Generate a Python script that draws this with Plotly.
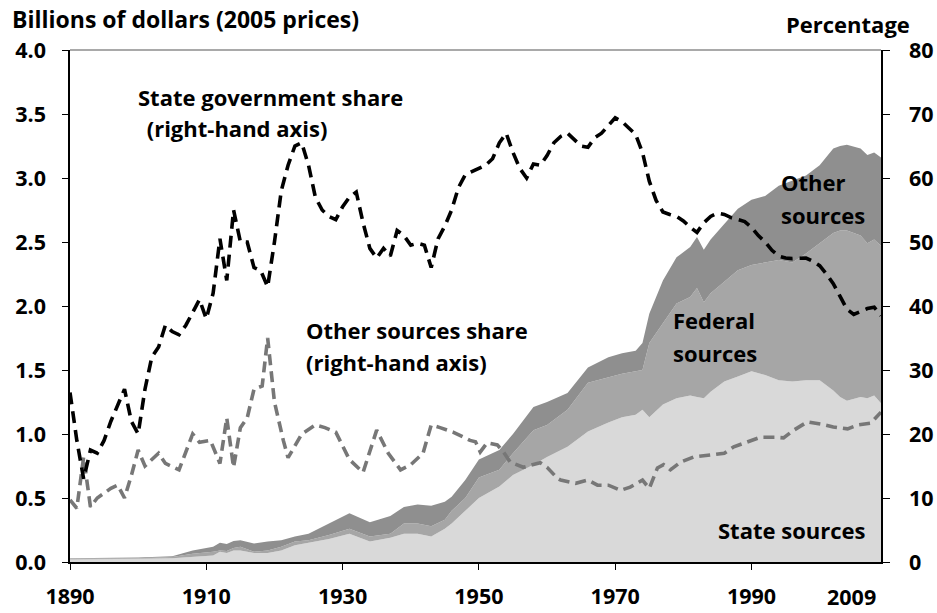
import plotly.graph_objects as go

# ---- Stacked areas (billions of 2005 dollars, left axis) ----
area_years = [1890, 1895, 1900, 1905, 1908, 1911, 1912, 1913, 1914, 1915, 1917, 1919, 1921, 1923,
              1925, 1928, 1931, 1934, 1937, 1939, 1941, 1943, 1945, 1946, 1948, 1950, 1953, 1955,
              1958, 1960, 1963, 1966, 1969, 1971, 1973, 1974, 1975, 1977, 1979, 1981, 1982, 1983,
              1984, 1986, 1988, 1990, 1992, 1994, 1996, 1998, 2000, 2002, 2003, 2004, 2006, 2007,
              2008, 2009]
state_sources = [0.02, 0.02, 0.025, 0.03, 0.04, 0.05, 0.08, 0.07, 0.09, 0.09, 0.07, 0.07, 0.09, 0.13,
                 0.15, 0.18, 0.22, 0.16, 0.19, 0.22, 0.22, 0.20, 0.26, 0.30, 0.40, 0.50, 0.59, 0.68,
                 0.76, 0.82, 0.90, 1.02, 1.09, 1.13, 1.15, 1.19, 1.13, 1.23, 1.28, 1.30, 1.29, 1.28,
                 1.33, 1.41, 1.45, 1.49, 1.46, 1.42, 1.41, 1.42, 1.42, 1.34, 1.29, 1.26, 1.29, 1.28,
                 1.30, 1.24]
federal_sources = [0.005, 0.005, 0.005, 0.01, 0.025, 0.03, 0.01, 0.015, 0.02, 0.03, 0.01, 0.02, 0.03, 0.03,
                   0.02, 0.03, 0.04, 0.04, 0.03, 0.08, 0.08, 0.08, 0.07, 0.10, 0.10, 0.16, 0.13, 0.17,
                   0.27, 0.25, 0.29, 0.38, 0.35, 0.34, 0.34, 0.31, 0.58, 0.64, 0.74, 0.77, 0.85, 0.75,
                   0.77, 0.78, 0.83, 0.83, 0.88, 0.94, 0.93, 0.99, 1.07, 1.23, 1.30, 1.33, 1.26, 1.21,
                   1.22, 1.23]
other_sources = [0.005, 0.005, 0.005, 0.005, 0.025, 0.04, 0.06, 0.055, 0.055, 0.05, 0.065, 0.07, 0.05, 0.04,
                 0.05, 0.09, 0.12, 0.11, 0.14, 0.13, 0.15, 0.16, 0.14, 0.11, 0.14, 0.14, 0.155, 0.15,
                 0.18, 0.18, 0.13, 0.12, 0.16, 0.16, 0.16, 0.21, 0.23, 0.33, 0.36, 0.39, 0.40, 0.41,
                 0.42, 0.45, 0.48, 0.51, 0.52, 0.58, 0.64, 0.61, 0.61, 0.66, 0.66, 0.67, 0.68, 0.69,
                 0.68, 0.69]

# ---- State government share (%, right axis) ----
state_share_years = list(range(1890, 2010))
state_share = [26.5, 19, 13, 17.5, 17, 19, 22, 24.5, 27, 22,
               20, 27, 32, 33.6, 37, 36, 35.5, 37, 39, 41,
               38, 42, 50.5, 44, 55, 50, 50, 46, 45.5, 43,
               50, 58, 62, 65, 65.5, 62, 57, 55, 54, 53.5,
               55.5, 57, 57.8, 53, 49, 47.5, 49, 47.8, 51.8, 51,
               49.5, 49.8, 49.5, 46, 50.5, 52.5, 55, 58.5, 60.5, 61,
               61.5, 62, 63, 65.5, 67, 64, 61.5, 60, 62.2, 62,
               63.5, 65.5, 66.5, 67, 66, 65, 64.8, 66.3, 67, 68.3,
               69.4, 68.8, 67.8, 66.8, 64, 59.5, 56.5, 54.7, 54.3, 54,
               53.3, 52.3, 51.5, 53, 54, 54.5, 54.3, 53.8, 53.5, 53.2,
               52.3, 51, 50, 48.7, 47.8, 47.5, 47.4, 47.5, 47.5, 47,
               46.3, 45, 43.5, 41.5, 39.5, 38.7, 39.1, 39.6, 39.8, 38.5]

# ---- Other sources share (%, right axis) ----
other_share_years = [1890, 1891, 1892, 1893, 1894, 1896, 1897, 1898, 1899, 1900, 1901, 1903, 1904, 1906,
                     1908, 1909, 1910.6, 1912, 1913, 1914, 1915, 1916, 1917, 1918.2, 1919, 1920, 1921.3,
                     1922, 1924, 1926, 1927.4, 1929, 1931, 1933, 1935, 1936.7, 1938.5, 1940, 1941.8,
                     1943, 1944.3, 1946.2, 1948.7, 1949.5, 1950.2, 1951.2, 1952.7, 1953.6, 1954.6,
                     1956.5, 1959, 1960, 1961.5, 1962, 1964.2, 1966, 1967.4, 1969, 1970.8, 1972.2,
                     1974, 1975, 1976.2, 1977.1, 1978.1, 1979.6, 1981.5, 1984, 1986, 1987.4, 1990,
                     1991.3, 1993.5, 1994.7, 1996.2, 1998.2, 2000.4, 2002, 2004.1, 2005.6, 2007.5, 2009]
other_share = [9.7, 8.4, 16.4, 8.6, 10, 11.5, 12, 10, 13.5, 17.5, 15, 17, 15.4, 14.4,
               20, 18.7, 19, 15.4, 22.5, 14.8, 21, 22.5, 27, 27.5, 35, 25, 19,
               16.3, 20, 21.4, 21, 20.3, 16, 14, 20.6, 17, 14.4, 15.2, 17,
               21.4, 21, 20.3, 19, 18.8, 17.2, 18.6, 18.3, 17.2, 15.6,
               14.8, 15.5, 14.8, 13.1, 12.8, 12.3, 12.8, 12, 12, 11.2, 11.7,
               12.8, 11.5, 14.7, 15.2, 14.4, 15.6, 16.4, 16.7, 17, 18, 19,
               19.5, 19.5, 19.4, 20.6, 21.9, 21.5, 21.1, 20.8, 21.4, 21.7, 23.4]

x_tick_vals = [1890, 1910, 1930, 1950, 1970, 1990]
x_tick_text = ["1890", "1910", "1930", "1950", "1970", "1990"]
last_tick_label = "2009"

FONT = "Open Sans"
fig = go.Figure()

fig.add_trace(go.Scatter(x=area_years, y=state_sources, name="State sources", mode="lines",
                         stackgroup="one", line=dict(width=0, color="#d9d9d9"), fillcolor="#d9d9d9"))
fig.add_trace(go.Scatter(x=area_years, y=federal_sources, name="Federal sources", mode="lines",
                         stackgroup="one", line=dict(width=0, color="#a6a6a6"), fillcolor="#a6a6a6"))
fig.add_trace(go.Scatter(x=area_years, y=other_sources, name="Other sources", mode="lines",
                         stackgroup="one", line=dict(width=0, color="#8f8f8f"), fillcolor="#8f8f8f"))

fig.add_trace(go.Scatter(x=other_share_years, y=other_share, name="Other sources share", mode="lines",
                         yaxis="y2", line=dict(color="#777777", width=3.6, dash="11px,6px")))
fig.add_trace(go.Scatter(x=state_share_years, y=state_share, name="State government share", mode="lines",
                         yaxis="y2", line=dict(color="#000000", width=3.6, dash="12px,7px")))

TICK_SIZE = 21.5
LABEL_SIZE = 22
TITLE_SIZE = 23
tickfont = dict(family=FONT, size=TICK_SIZE, color="#000000", weight="bold")

fig.update_layout(
    width=937, height=613,
    margin=dict(l=70, r=56, t=50, b=51, autoexpand=False),
    paper_bgcolor="white", plot_bgcolor="white",
    showlegend=False,
    font=dict(family=FONT, color="#000000"),
    xaxis=dict(range=[1890, 2009], tickvals=x_tick_vals, ticktext=x_tick_text, automargin=False,
               showgrid=False, zeroline=False, showline=True, linecolor="#000000", linewidth=1.5,
               ticks="outside", ticklen=6, tickcolor="#000000", tickfont=tickfont,
               ticklabelstandoff=8),
    yaxis=dict(range=[0, 4], dtick=0.5, tickformat=".1f", showgrid=False, zeroline=False,
               automargin=False, showline=True, linecolor="#000000", linewidth=1.5,
               ticks="outside", ticklen=6, tickcolor="#000000", tickfont=tickfont,
               ticklabelstandoff=12),
    yaxis2=dict(range=[0, 80], dtick=10, overlaying="y", side="right", showgrid=False,
                automargin=False, zeroline=False, showline=True, linecolor="#000000", linewidth=1.5,
                ticks="outside", ticklen=7, tickcolor="#000000", tickfont=tickfont,
                ticklabelstandoff=15),
)

# top border of plot area (grey)
fig.add_shape(type="line", xref="paper", yref="paper", x0=0, x1=1, y0=1, y1=1,
              line=dict(color="#8c8c8c", width=1.5))

PW, PH = 811.0, 512.0  # plot area size in px (left 70, top 50)

def px_x(px):
    return (px - 70) / PW

def px_y(py):
    return (562 - py) / PH

def label(xp, yp, s, xanchor="left", size=LABEL_SIZE, yanchor="middle", **kw):
    fig.add_annotation(x=px_x(xp), y=px_y(yp), xref="paper", yref="paper", text=s,
                       showarrow=False, xanchor=xanchor, yanchor=yanchor, align="left",
                       font=dict(family=FONT, size=size, color="#000000", weight="bold"), **kw)

# axis titles
label(10, 19, "Billions of dollars (2005 prices)", size=TITLE_SIZE)
label(912, 24, "Percentage", xanchor="right")

# last x tick label (shifted inward like the original)
label(878, 596, last_tick_label, xanchor="right", size=TICK_SIZE)

# series labels
label(136, 97, "State government share")
label(139, 128, " (right-hand axis)")
label(304, 330, "Other sources share")
label(304, 362, "(right-hand axis)")
label(779, 182, "Other")
label(779, 215, "sources")
label(671, 320, "Federal")
label(671, 353, "sources")
label(716, 530, "State sources")

fig.write_html("out.html", config={"displayModeBar": False},
               post_script="document.body.style.margin='0px';")
